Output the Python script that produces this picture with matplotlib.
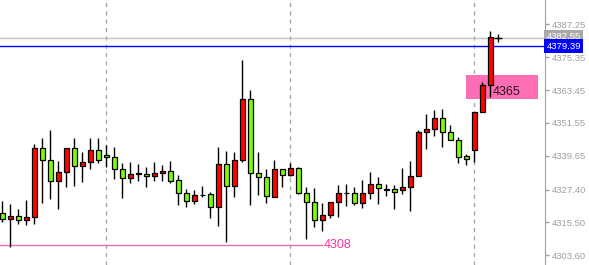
import matplotlib
matplotlib.use('Agg')
import matplotlib.pyplot as plt
import matplotlib.transforms as mtransforms
from matplotlib.patches import Rectangle

# OHLC (62 velas)
opens = [4318.81, 4316.85, 4317.72, 4316.28, 4317.58, 4342.35, 4338.00, 4330.40, 4333.66, 4342.35,
         4335.83, 4337.28, 4341.63, 4339.92, 4339.09, 4334.74, 4331.48, 4332.93, 4333.15, 4332.32,
         4333.29, 4334.02, 4330.76, 4326.05, 4323.16, 4325.33, 4325.69, 4320.98, 4336.55, 4328.59,
         4338.00, 4360.09, 4333.29, 4331.85, 4324.82, 4334.74, 4332.57, 4335.11, 4326.16, 4323.01,
         4316.49, 4318.08, 4323.01, 4326.05, 4326.05, 4322.43, 4326.05, 4329.42, 4327.35, 4327.50,
         4327.25, 4328.16, 4332.21, 4348.14, 4349.34, 4353.21, 4348.14, 4345.25, 4339.56, 4341.63,
         4355.38, 4365.16]
closes = [4316.85, 4317.83, 4316.28, 4317.47, 4342.35, 4338.00, 4330.40, 4333.66, 4342.35, 4335.83,
          4337.28, 4341.63, 4338.00, 4339.09, 4334.74, 4331.48, 4332.94, 4333.40, 4332.21, 4333.29,
          4334.02, 4330.61, 4326.05, 4323.16, 4325.33, 4325.55, 4320.98, 4336.55, 4328.59, 4338.00,
          4360.09, 4333.29, 4331.85, 4324.97, 4334.85, 4332.57, 4335.11, 4326.05, 4323.01, 4316.49,
          4318.08, 4322.79, 4326.05, 4326.27, 4322.65, 4326.05, 4329.42, 4327.87, 4327.72, 4326.63,
          4328.33, 4332.32, 4348.14, 4349.34, 4353.21, 4348.14, 4345.25, 4339.31, 4338.37, 4355.38,
          4365.16, 4382.65]
highs = [4323.26, 4322.07, 4320.37, 4323.63, 4343.90, 4346.08, 4348.97, 4337.64, 4342.35, 4345.97,
         4340.90, 4346.08, 4346.08, 4343.54, 4342.71, 4336.92, 4337.49, 4336.55, 4335.58, 4337.28,
         4336.30, 4337.75, 4332.57, 4327.50, 4327.14, 4328.59, 4326.63, 4342.71, 4341.26, 4340.90,
         4374.32, 4363.46, 4341.01, 4334.85, 4338.11, 4334.74, 4336.92, 4335.69, 4328.23, 4327.87,
         4322.43, 4322.79, 4329.06, 4329.42, 4328.23, 4330.87, 4333.66, 4331.85, 4329.42, 4329.06,
         4335.11, 4337.64, 4348.97, 4354.66, 4356.04, 4356.47, 4350.78, 4346.55, 4340.28, 4355.38,
         4366.47, 4384.82]
lows = [4315.77, 4306.72, 4315.05, 4314.68, 4315.05, 4322.65, 4323.99, 4320.48, 4328.44, 4328.80,
        4330.25, 4334.96, 4336.92, 4335.47, 4331.23, 4324.46, 4329.89, 4330.61, 4328.44, 4330.61,
        4330.61, 4329.89, 4321.92, 4320.98, 4322.07, 4324.60, 4317.22, 4314.32, 4308.53, 4324.82,
        4337.39, 4321.81, 4325.55, 4322.65, 4324.60, 4328.44, 4332.40, 4325.69, 4309.40, 4313.96,
        4312.51, 4317.00, 4317.58, 4321.56, 4321.81, 4320.84, 4323.99, 4322.18, 4325.18, 4320.37,
        4325.69, 4319.75, 4332.21, 4341.99, 4346.91, 4342.93, 4345.25, 4336.92, 4336.30, 4337.49,
        4355.38, 4361.03]

price_ticks = [4387.25, 4375.35, 4363.45, 4351.55, 4339.65, 4327.40, 4315.50, 4303.60]
separadores = [13, 36, 59]

bid = 4382.40
bid_label = '4382.55'
linea_azul = 4379.39
soporte = 4307.22
soporte_label = '4308'
zona = (4360.31, 4368.89)
zona_label = '4365'

plt.rcParams['font.family'] = ['Liberation Sans', 'DejaVu Sans']

fig = plt.figure(figsize=(5.89, 2.65), dpi=100)
ax = fig.add_axes([0, 0, 545 / 589, 1])

n = len(opens)
xs = list(range(n))

# separadores de periodo
for s in separadores:
    ax.axvline(s, color='#a8a8a8', linestyle=(0, (3, 3)), linewidth=1, zorder=0)

# líneas horizontales
ax.axhline(bid, color='#c0c0c0', linewidth=1, zorder=1)
ax.axhline(linea_azul, color='#0000ff', linewidth=1, zorder=1)
ax.plot([-1, 40], [soporte, soporte], color='#f06aae', linewidth=1, zorder=1)
ax.text(40.2, soporte, soporte_label, color='#ff33a0', fontsize=9, va='center', ha='left')

# zona rosa
ax.add_patch(Rectangle((57.96, zona[0]), 9.0, zona[1] - zona[0], facecolor='#ff6eb4',
                       edgecolor='none', zorder=1))
ax.text(61.3, 4362.9, zona_label, color='#2a1020', fontsize=9, va='center', ha='left', zorder=5)

# velas
colores = ['#ff0000' if c >= o else '#7cfc00' for o, c in zip(opens, closes)]
ax.vlines(xs, lows, highs, color='black', linewidth=1, zorder=2)
bottoms = [min(o, c) for o, c in zip(opens, closes)]
alturas = [max(abs(c - o), 0.05) for o, c in zip(opens, closes)]
ax.bar(xs, alturas, bottom=bottoms, width=0.56, color=colores, edgecolor='black',
       linewidth=0.9, zorder=3)

ax.plot(n, bid, marker='+', color='black', markersize=6, markeredgewidth=1, zorder=4)

ax.set_xlim(-0.2875, 67.84)
ax.set_ylim(4300.09, 4396.05)

for side in ['left', 'top', 'bottom']:
    ax.spines[side].set_visible(False)
ax.spines['right'].set_color('#a0a0a0')
ax.set_xticks([])
ax.yaxis.tick_right()
ax.set_yticks(price_ticks)
ax.set_yticklabels([f'{p:.2f}' for p in price_ticks])
ax.tick_params(axis='y', direction='out', length=3, width=1, color='#a0a0a0',
               labelcolor='#a0a0a0', labelsize=6.8, pad=2)

# etiquetas de precio en el eje
trans = mtransforms.blended_transform_factory(ax.transAxes, ax.transData)
ax.text(1.003, bid + 0.4, bid_label, transform=trans, color='white', fontsize=6.8,
        va='center', ha='left', clip_on=False,
        bbox=dict(boxstyle='square,pad=0.25', facecolor='#a9a9a9', edgecolor='none'))
ax.text(1.003, linea_azul, f'{linea_azul:.2f}', transform=trans, color='white', fontsize=6.8,
        va='center', ha='left', clip_on=False,
        bbox=dict(boxstyle='square,pad=0.25', facecolor='#0000ff', edgecolor='none'))

fig.savefig('out.png', dpi=100)
